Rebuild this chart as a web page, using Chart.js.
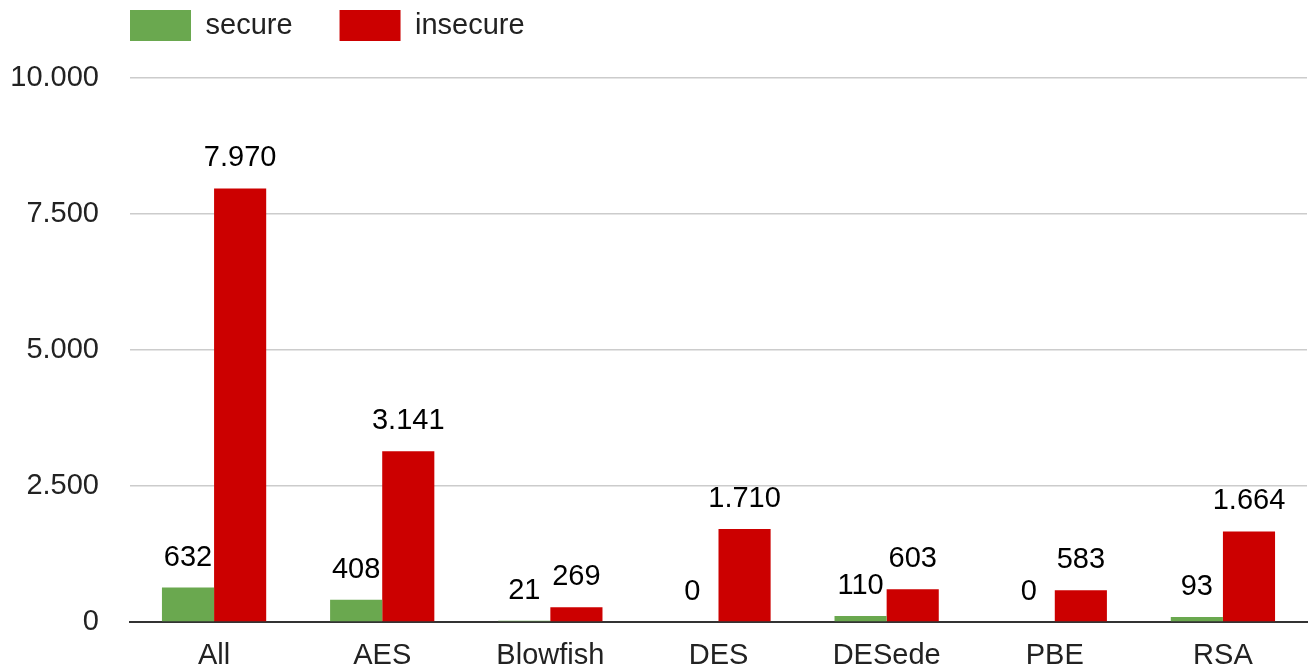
<!DOCTYPE html>
<html>
<head>
<meta charset="utf-8">
<script src="https://cdn.jsdelivr.net/npm/chart.js@4/dist/chart.umd.min.js"></script>
<style>
  html, body { margin: 0; padding: 0; background: #ffffff; }
  #wrap { width: 1310px; height: 672px; }
</style>
</head>
<body>
<div id="wrap"><canvas id="chart" width="1310" height="672"></canvas></div>
<script>
// Cipher usage counts per algorithm
const categories = ['All', 'AES', 'Blowfish', 'DES', 'DESede', 'PBE', 'RSA'];
const secureValues = [632, 408, 21, 0, 110, 0, 93];
const insecureValues = [7970, 3141, 269, 1710, 603, 583, 1664];
const seriesNames = ['secure', 'insecure'];
const seriesColors = ['#6aa84f', '#cc0000'];
const yTicks = [0, 2500, 5000, 7500, 10000];

const FONT = '"Liberation Sans", Arial, sans-serif';
const FONT_SIZE = 29;

// German-style thousands separator: 7970 -> "7.970"
function fmt(v) {
  const s = String(Math.round(Math.abs(v)));
  return (v < 0 ? '-' : '') + s.replace(/\B(?=(\d{3})+(?!\d))/g, '.');
}

// Value labels above each bar
const valueLabels = {
  id: 'valueLabels',
  afterDatasetsDraw(chart) {
    const ctx = chart.ctx;
    ctx.save();
    ctx.font = FONT_SIZE + 'px ' + FONT;
    ctx.fillStyle = '#000000';
    ctx.textAlign = 'center';
    ctx.textBaseline = 'alphabetic';
    chart.data.datasets.forEach((ds, i) => {
      const meta = chart.getDatasetMeta(i);
      meta.data.forEach((bar, j) => {
        ctx.fillText(fmt(ds.data[j]), bar.x, bar.y - 22);
      });
    });
    ctx.restore();
  }
};

// Legend placement: fixed height above the plot and left edge at the plot start
const legendPlacement = {
  id: 'legendPlacement',
  afterInit(chart) {
    const legend = chart.legend;
    const origFit = legend.fit;
    legend.fit = function () {
      origFit.call(this);
      this.height = 78;
    };
  },
  afterLayout(chart) {
    const legend = chart.legend;
    const pad = legend.options.labels.padding;
    legend.left = 130 - pad;
    legend.top = 10 - pad;
  }
};

new Chart(document.getElementById('chart'), {
  type: 'bar',
  data: {
    labels: categories,
    datasets: [
      { label: seriesNames[0], data: secureValues, backgroundColor: seriesColors[0], borderWidth: 0 },
      { label: seriesNames[1], data: insecureValues, backgroundColor: seriesColors[1], borderWidth: 0 }
    ]
  },
  options: {
    responsive: false,
    devicePixelRatio: 1,
    animation: false,
    events: [],
    layout: { padding: { left: 0, right: 3, top: 0, bottom: 0 } },
    datasets: {
      bar: { categoryPercentage: 0.62, barPercentage: 1.0 }
    },
    plugins: {
      tooltip: { enabled: false },
      legend: {
        position: 'top',
        align: 'start',
        labels: {
          boxWidth: 61,
          boxHeight: 31,
          padding: 47,
          color: '#222222',
          font: { family: FONT, size: FONT_SIZE }
        }
      }
    },
    scales: {
      x: {
        z: 1,
        grid: { display: false, drawTicks: false },
        border: { display: true, color: '#333333', width: 2 },
        ticks: {
          color: '#222222',
          font: { family: FONT, size: FONT_SIZE },
          padding: 17,
          maxRotation: 0,
          autoSkip: false
        },
        afterFit(scale) { scale.height = 50; }
      },
      y: {
        min: 0,
        max: 10000,
        grid: { color: '#cccccc', lineWidth: 1.5, drawTicks: false },
        border: { display: false },
        afterBuildTicks(scale) {
          scale.ticks = yTicks.map(v => ({ value: v }));
        },
        ticks: {
          color: '#222222',
          font: { family: FONT, size: FONT_SIZE },
          padding: 31,
          callback: (v) => fmt(v)
        },
        afterFit(scale) { scale.width = 130; }
      }
    }
  },
  plugins: [valueLabels, legendPlacement]
});
</script>
</body>
</html>
